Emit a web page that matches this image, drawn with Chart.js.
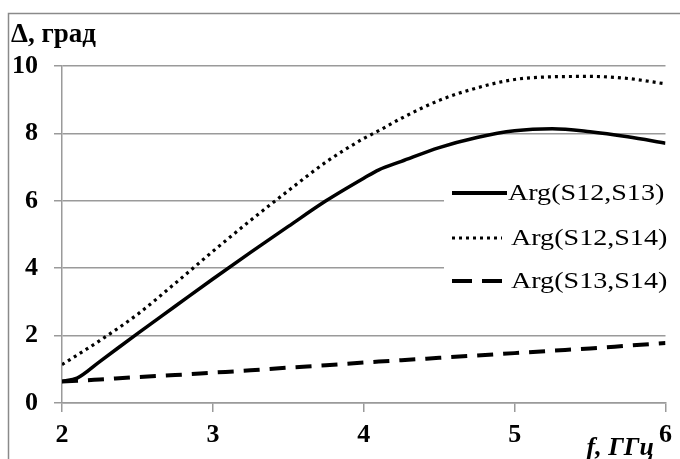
<!DOCTYPE html>
<html>
<head>
<meta charset="utf-8">
<script src="https://cdn.jsdelivr.net/npm/chart.js@4/dist/chart.umd.min.js"></script>
<style>
  html, body { margin: 0; padding: 0; background: #fff; }
  #wrap { width: 680px; height: 459px; }
</style>
</head>
<body>
<div id="wrap"><canvas id="phaseChart" width="680" height="459"></canvas></div>
<script>
// ===== DADOS =====
const freq = [2, 2.1, 2.25, 2.5, 2.75, 3, 3.25, 3.5, 3.75, 4, 4.1, 4.25, 4.5, 4.75, 5, 5.25, 5.5, 5.75, 6];
const argS12S13 = [0.64, 0.74, 1.23, 2.06, 2.87, 3.68, 4.47, 5.24, 6.0, 6.67, 6.92, 7.17, 7.58, 7.88, 8.08, 8.14, 8.05, 7.9, 7.71];
const argS12S14 = [1.14, 1.42, 1.85, 2.63, 3.55, 4.5, 5.42, 6.3, 7.15, 7.85, 8.08, 8.45, 8.98, 9.35, 9.6, 9.68, 9.69, 9.63, 9.47];
const argS13S14 = [0.64, 0.66, 0.7, 0.77, 0.83, 0.9, 0.97, 1.05, 1.12, 1.2, 1.23, 1.27, 1.34, 1.41, 1.48, 1.55, 1.62, 1.7, 1.78];
const seriesNames = ["Arg(S12,S13)", "Arg(S12,S14)", "Arg(S13,S14)"];
const yTicks = [0, 2, 4, 6, 8, 10];
const xTicks = [2, 3, 4, 5, 6];

const serif = "'Liberation Serif', 'Times New Roman', serif";
const gridColor = "#9a9a9a";

const toPoints = (vals) => freq.map((f, i) => ({ x: f, y: vals[i] }));

// ===== MOLDURA, TITULOS E LEGENDA =====
const framePlugin = {
  id: "frame",
  beforeDatasetsDraw(chart) {
    // caixa branca da legenda corta as linhas de grade 4 e 6
    const ctx = chart.ctx;
    ctx.save();
    ctx.fillStyle = "#fff";
    ctx.fillRect(444, 150, 230, 170);
    ctx.restore();
  },
  afterDraw(chart) {
    const ctx = chart.ctx;
    ctx.save();

    // borda externa
    ctx.strokeStyle = "#8a8a8a";
    ctx.lineWidth = 1.5;
    ctx.strokeRect(8.5, 13.5, 700, 500);

    // titulo do eixo y
    ctx.fillStyle = "#000";
    ctx.font = "bold 27px " + serif;
    ctx.textBaseline = "middle";
    ctx.textAlign = "left";
    ctx.fillText("Δ, град", 11, 35);

    // titulo do eixo x
    ctx.font = "italic bold 26px " + serif;
    ctx.textAlign = "right";
    ctx.fillText("f, ГГц", 654, 448);

    // legenda
    const rows = [
      { y: 193, dash: [], width: 4 },
      { y: 238, dash: [3, 4], width: 3 },
      { y: 281, dash: [20, 10], width: 4 }
    ];
    ctx.font = "24px " + serif;
    ctx.textAlign = "left";
    rows.forEach((r, i) => {
      ctx.beginPath();
      ctx.setLineDash(r.dash);
      ctx.lineWidth = r.width;
      ctx.strokeStyle = "#000";
      ctx.moveTo(452, r.y);
      ctx.lineTo(i === 0 ? 507 : 502, r.y);
      ctx.stroke();
      ctx.setLineDash([]);
      // texto levemente esticado na horizontal como no original
      ctx.save();
      ctx.translate(i === 0 ? 508 : 511, r.y + 1);
      ctx.scale(1.17, 1);
      ctx.fillText(seriesNames[i], 0, 0);
      ctx.restore();
    });
    ctx.restore();
  }
};

// ===== GRAFICO =====
new Chart(document.getElementById("phaseChart"), {
  type: "line",
  data: {
    datasets: [
      {
        label: seriesNames[0],
        data: toPoints(argS12S13),
        borderColor: "#000",
        borderWidth: 3.5,
        pointRadius: 0,
        cubicInterpolationMode: "monotone"
      },
      {
        label: seriesNames[1],
        data: toPoints(argS12S14),
        borderColor: "#000",
        borderWidth: 3.2,
        borderDash: [3, 4],
        pointRadius: 0,
        cubicInterpolationMode: "monotone"
      },
      {
        label: seriesNames[2],
        data: toPoints(argS13S14),
        borderColor: "#000",
        borderWidth: 4,
        borderDash: [16, 10],
        pointRadius: 0,
        cubicInterpolationMode: "monotone"
      }
    ]
  },
  options: {
    responsive: false,
    animation: false,
    events: [],
    layout: { padding: { left: 0, top: 66, right: 14, bottom: 0 } },
    plugins: {
      legend: { display: false },
      tooltip: { enabled: false }
    },
    scales: {
      x: {
        type: "linear",
        min: 2,
        max: 6,
        afterBuildTicks: (scale) => { scale.ticks = xTicks.map(v => ({ value: v })); },
        afterFit: (scale) => { scale.height = 56; },
        border: { color: gridColor, width: 1.5 },
        grid: { drawOnChartArea: false, drawTicks: true, tickLength: 9, color: gridColor, lineWidth: 1.5 },
        ticks: {
          color: "#000",
          padding: 8,
          maxRotation: 0,
          font: { family: serif, size: 26, weight: "bold" }
        }
      },
      y: {
        min: 0,
        max: 10,
        afterBuildTicks: (scale) => { scale.ticks = yTicks.map(v => ({ value: v })); },
        afterFit: (scale) => { scale.width = 62; },
        border: { color: gridColor, width: 1.5 },
        grid: { color: gridColor, lineWidth: 1.5, tickLength: 8 },
        ticks: {
          color: "#000",
          padding: 16,
          font: { family: serif, size: 26, weight: "bold" }
        }
      }
    }
  },
  plugins: [framePlugin]
});
</script>
</body>
</html>
